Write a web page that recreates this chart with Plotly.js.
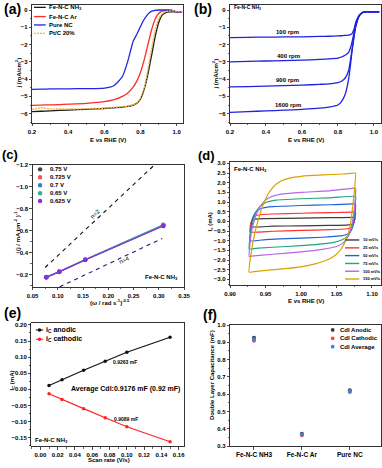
<!DOCTYPE html>
<html><head><meta charset="utf-8">
<script src="https://cdn.plot.ly/plotly-3.0.1.min.js"></script>
<style>html,body{margin:0;padding:0;background:#fff}#chart{width:382px;height:468px}</style>
</head><body><div id="chart"></div>
<script>
// ---------- (a) LSV comparison ----------
const lsvE   = [0.2, 0.25, 0.3, 0.4, 0.5, 0.6, 0.65, 0.7, 0.73, 0.76, 0.78, 0.8, 0.82, 0.84, 0.86, 0.88, 0.9, 0.92, 0.94, 0.96, 0.98, 1.0, 1.03];
const lsvNH3 = [-5.88, -5.86, -5.84, -5.79, -5.75, -5.7, -5.66, -5.62, -5.58, -5.5, -5.4, -5.15, -4.6, -3.75, -2.7, -1.6, -0.75, -0.3, -0.15, -0.11, -0.1, -0.1, -0.1];
const lsvAr  = [-5.52, -5.5, -5.49, -5.45, -5.4, -5.3, -5.2, -5.0, -4.8, -4.45, -4.1, -3.6, -2.9, -2.05, -1.2, -0.55, -0.2, -0.06, -0.03, -0.05, -0.08, -0.1, -0.1];
const lsvNC  = [-4.59, -4.58, -4.57, -4.56, -4.55, -4.52, -4.4, -3.85, -2.95, -1.8, -1.4, -0.95, -0.55, -0.25, -0.08, -0.02, 0.0, 0.0, 0.0, 0.0, -0.03, -0.1, -0.1];
const lsvPtC = [-5.75, -5.66, -5.72, -5.73, -5.72, -5.68, -5.64, -5.6, -5.56, -5.48, -5.38, -5.1, -4.55, -3.5, -2.3, -1.2, -0.5, -0.22, -0.1, -0.05, -0.05, -0.08, -0.1];
const lsvNames = ['Fe-N-C NH<sub>3</sub>', 'Fe-N-C Ar', 'Pure NC', 'Pt/C 20%'];

// ---------- (b) RDE at various rpm ----------
const rdeE    = [0.2, 0.3, 0.4, 0.5, 0.6, 0.7, 0.75, 0.8, 0.82, 0.84, 0.86, 0.87, 0.88, 0.89, 0.9, 0.92, 0.94, 0.96, 0.98, 1.0, 1.03];
const rpm100  = [-1.6, -1.58, -1.57, -1.56, -1.55, -1.53, -1.52, -1.5, -1.49, -1.47, -1.45, -1.42, -1.35, -1.1, -0.7, -0.28, -0.13, -0.1, -0.1, -0.1, -0.1];
const rpm400  = [-3.0, -2.97, -2.95, -2.93, -2.9, -2.86, -2.83, -2.78, -2.72, -2.62, -2.45, -2.2, -1.8, -1.3, -0.8, -0.3, -0.13, -0.1, -0.1, -0.1, -0.1];
const rpm900  = [-4.45, -4.43, -4.41, -4.38, -4.35, -4.3, -4.27, -4.2, -4.12, -3.95, -3.5, -2.9, -2.2, -1.5, -0.9, -0.32, -0.14, -0.1, -0.1, -0.1, -0.1];
const rpm1600 = [-5.92, -5.88, -5.84, -5.8, -5.75, -5.68, -5.62, -5.5, -5.3, -4.9, -4.0, -3.2, -2.3, -1.55, -0.95, -0.33, -0.14, -0.1, -0.1, -0.1, -0.1];
const rpmLabels = ['100 rpm', '400 rpm', '900 rpm', '1600 rpm'];
const rpmLabelX = [0.521, 0.525, 0.521, 0.523];
const rpmLabelY = [-1.29, -2.64, -4.05, -5.49];

// ---------- (c) Koutecky-Levich ----------
const klX    = [0.0773, 0.103, 0.1545, 0.309];
const kl075  = [-0.178, -0.228, -0.337, -0.648];
const kl0725 = [-0.179, -0.229, -0.338, -0.650];
const kl070  = [-0.180, -0.230, -0.339, -0.655];
const kl065  = [-0.179, -0.229, -0.338, -0.652];
const kl0625 = [-0.178, -0.227, -0.335, -0.643];
const klNames = ['0.75 V', '0.725 V', '0.7 V', '0.65 V', '0.625 V'];
const n2X = [0.075, 0.292], n2Y = [-0.267, -1.2];
const n4X = [0.104, 0.307], n4Y = [-0.092, -0.531];

// ---------- (d) CV at various scan rates ----------
const cv10E  = [0.929, 0.93, 0.932, 0.936, 0.95, 1.0, 1.04, 1.075, 1.076, 1.075, 1.073, 1.068, 1.04, 1.0, 0.96, 0.929];
const cv10I  = [-0.28, -0.05, 0.08, 0.12, 0.14, 0.17, 0.19, 0.21, 0.2, 0.0, -0.13, -0.18, -0.21, -0.23, -0.25, -0.28];
const cv25E  = [0.928, 0.929, 0.931, 0.934, 0.94, 0.96, 1.0, 1.04, 1.075, 1.077, 1.076, 1.074, 1.071, 1.065, 1.04, 1.0, 0.96, 0.928];
const cv25I  = [-0.55, -0.2, 0.1, 0.26, 0.33, 0.38, 0.42, 0.45, 0.48, 0.46, 0.15, -0.15, -0.32, -0.38, -0.43, -0.47, -0.51, -0.55];
const cv50E  = [0.928, 0.929, 0.931, 0.934, 0.938, 0.945, 0.96, 1.0, 1.04, 1.075, 1.077, 1.076, 1.074, 1.071, 1.066, 1.055, 1.03, 0.99, 0.95, 0.928];
const cv50I  = [-1.0, -0.5, 0.0, 0.35, 0.55, 0.68, 0.76, 0.82, 0.86, 0.9, 0.88, 0.4, -0.1, -0.45, -0.65, -0.75, -0.82, -0.88, -0.94, -1.0];
const cv75E  = [0.927, 0.928, 0.93, 0.933, 0.937, 0.943, 0.952, 0.965, 1.0, 1.04, 1.075, 1.077, 1.076, 1.074, 1.071, 1.066, 1.058, 1.045, 1.02, 0.98, 0.94, 0.927];
const cv75I  = [-1.42, -0.9, -0.4, 0.1, 0.5, 0.8, 1.0, 1.1, 1.17, 1.22, 1.3, 1.28, 0.7, 0.1, -0.4, -0.75, -0.95, -1.1, -1.2, -1.3, -1.38, -1.42];
const cv100E = [0.927, 0.928, 0.93, 0.933, 0.937, 0.943, 0.95, 0.96, 0.975, 1.0, 1.04, 1.075, 1.077, 1.076, 1.074, 1.071, 1.067, 1.06, 1.05, 1.03, 1.0, 0.96, 0.93, 0.927];
const cv100I = [-1.82, -1.2, -0.6, -0.1, 0.35, 0.8, 1.1, 1.3, 1.42, 1.5, 1.58, 1.72, 1.7, 1.0, 0.3, -0.3, -0.75, -1.1, -1.3, -1.45, -1.58, -1.7, -1.8, -1.82];
const cv150E = [0.927, 0.93, 0.935, 0.94, 0.945, 0.952, 0.96, 0.97, 0.985, 1.0, 1.03, 1.06, 1.076, 1.077, 1.075, 1.072, 1.069, 1.064, 1.058, 1.05, 1.04, 1.02, 1.0, 0.97, 0.94, 0.927];
const cv150I = [-2.62, -1.6, -0.6, 0.1, 0.7, 1.3, 1.75, 2.05, 2.25, 2.33, 2.4, 2.45, 2.5, 2.5, 1.5, 0.5, -0.3, -0.9, -1.35, -1.7, -1.95, -2.2, -2.35, -2.47, -2.57, -2.62];
const cvNames = ['10 mV/s', '25 mV/s', '50 mV/s', '75 mV/s', '100 mV/s', '150 mV/s'];

// ---------- (e) Cdl fit ----------
const scanRate   = [0.01, 0.025, 0.05, 0.075, 0.1, 0.15];
const icAnodic   = [0.012, 0.03, 0.059, 0.087, 0.115, 0.162];
const icCathodic = [-0.014, -0.032, -0.06, -0.088, -0.116, -0.163];

// ---------- (f) Cdl comparison ----------
const samples     = ['Fe-N-C NH3', 'Fe-N-C Ar', 'Pure NC'];
const cdlAnodic   = [0.926, 0.372, 0.623];
const cdlCathodic = [0.909, 0.364, 0.614];
const cdlAverage  = [0.918, 0.368, 0.619];

// ================= drawing =================
const W = 382, H = 468;
const FONT = '"Liberation Sans", Arial, Helvetica, sans-serif';
const px = (l, r) => [l / W, r / W];
const py = (t, b) => [1 - b / H, 1 - t / H];

function mkAxis(domain, anchor, range, dtick, fmt, minorDt, opts) {
  const a = {
    domain, anchor, range, autorange: false,
    showline: true, mirror: true, linecolor: '#000', linewidth: 0.8,
    ticks: 'outside', ticklen: 2.5, tickwidth: 0.7, tickcolor: '#000',
    showgrid: false, zeroline: false,
    tickfont: {family: FONT, size: 6, color: '#000', weight: 'bold'}
  };
  if (dtick != null) { a.dtick = dtick; a.tick0 = 0; a.tickformat = fmt; }
  if (minorDt) a.minor = {dtick: minorDt, ticks: 'outside', ticklen: 1.5, tickwidth: 0.6, tickcolor: '#000', showgrid: false};
  return Object.assign(a, opts || {});
}

const traces = [];
function line(x, y, xa, ya, color, extra) {
  traces.push(Object.assign({x, y, xaxis: xa, yaxis: ya, type: 'scatter', mode: 'lines',
    line: {color, width: 1.3}, showlegend: false, hoverinfo: 'skip'}, extra || {}));
}

// (a)
const aCols = ['#1a1a1a', '#ff2a2a', '#2323e6', '#f2b43a'];
[lsvNH3, lsvAr, lsvNC, lsvPtC].forEach((s, i) =>
  line(lsvE, s, 'x', 'y', aCols[i], {line: {color: aCols[i], width: i === 3 ? 1.4 : 1.3, shape: 'spline', smoothing: 0.6, dash: i === 3 ? '2px,1px' : 'solid'}}));

// (b)
[rpm100, rpm400, rpm900, rpm1600].forEach(s =>
  line(rdeE, s, 'x2', 'y2', '#2020e0', {line: {color: '#2020e0', width: 1.3, shape: 'spline', smoothing: 0.6}}));

// (c)
line(n2X, n2Y, 'x3', 'y3', '#111', {line: {color: '#111', width: 1.1, dash: '4px,4px'}});
line(n4X, n4Y, 'x3', 'y3', '#1c1c7a', {line: {color: '#1c1c7a', width: 1.1, dash: '4px,4px'}});
const cCols = ['#404040', '#ff4d4d', '#2a7fd4', '#2bb38a', '#8b2be2'];
[kl075, kl0725, kl070, kl065, kl0625].forEach((s, i) =>
  line(klX, s, 'x3', 'y3', cCols[i], {mode: 'lines+markers', line: {color: cCols[i], width: 1.2}, marker: {color: cCols[i], size: 4.5}}));

// (d)
const dCols = ['#3c3c3c', '#ff3333', '#1f63d6', '#1fa67a', '#b565e8', '#d9a200'];
[[cv10E, cv10I], [cv25E, cv25I], [cv50E, cv50I], [cv75E, cv75I], [cv100E, cv100I], [cv150E, cv150I]].forEach((p, i) =>
  line(p[0], p[1], 'x4', 'y4', dCols[i], {line: {color: dCols[i], width: 1.2, shape: 'spline', smoothing: 0.4}}));

// (e)
line(scanRate, icAnodic, 'x5', 'y5', '#111', {mode: 'lines+markers', marker: {color: '#111', size: 3.5}, line: {color: '#111', width: 1.1}});
line(scanRate, icCathodic, 'x5', 'y5', '#ff2020', {mode: 'lines+markers', marker: {color: '#ff2020', size: 3.5}, line: {color: '#ff2020', width: 1.1}});

// (f)
const fCols = ['#3a3a3a', '#ff4040', '#3a86d6'];
[cdlAnodic, cdlCathodic, cdlAverage].forEach((s, i) =>
  line(samples, s, 'x6', 'y6', fCols[i], {mode: 'markers', marker: {color: fCols[i], size: 4}}));

// ---- annotations & legend shapes ----
const ann = [], shapes = [];
function txt(x, y, text, size, o) {
  ann.push(Object.assign({x, y, text, showarrow: false, xref: 'paper', yref: 'paper',
    xanchor: 'center', yanchor: 'middle',
    font: {family: FONT, size, color: '#000', weight: 'bold'}}, o || {}));
}
const P = (x, y) => [x / W, 1 - y / H];
// panel labels
[['(a)', 2, 8.5, 14], ['(b)', 192, 8.5, 14], ['(c)', 0, 154.5, 13], ['(d)', 196, 156, 13], ['(e)', 2, 313, 14], ['(f)', 201, 315, 14]]
  .forEach(l => { const p = P(l[1], l[2]); txt(p[0], p[1], l[0], l[3], {xanchor: 'left'}); });
// axis titles
function title(x, y, t, rot) { const p = P(x, y); txt(p[0], p[1], t, 6, rot ? {textangle: -90} : {}); }
title(108, 139.5, 'E vs RHE (V)');
title(18.5, 73, 'j (mA/cm<sup>2</sup>)', 1);
title(306, 139.5, 'E vs RHE (V)');
title(215.5, 74, 'j (mA/cm<sup>2</sup>)', 1);
title(110, 302, '(ω / rad s<sup>-1</sup>)<sup>-0.5</sup>');
title(17, 231, '(j / mA cm<sup>-2</sup> )<sup>-1</sup>', 1);
title(306, 300.5, 'E vs RHE (V)');
title(209.5, 222, 'I<sub>c</sub> (mA)', 1);
title(109, 460, 'Scan rate (V/s)');
title(11.5, 381, 'I<sub>C</sub> (mA)', 1);
title(212, 375, 'Double Layer Capacitance (mF)', 1);

function dtxt(xa, ya, x, y, text, size, o) {
  txt(x, y, text, size, Object.assign({xref: xa + ' domain', yref: ya + ' domain'}, o || {}));
}
function legLine(xa, ya, x0, x1, y, color, w, dash) {
  shapes.push({type: 'line', xref: xa + ' domain', yref: ya + ' domain', x0, x1, y0: y, y1: y,
    line: {color, width: w, dash: dash || 'solid'}});
}
function legDot(xa, ya, x, y, color, r) {
  shapes.push({type: 'circle', xref: xa + ' domain', yref: ya + ' domain', xsizemode: 'pixel', ysizemode: 'pixel',
    xanchor: x, yanchor: y, x0: -r, x1: r, y0: -r, y1: r, fillcolor: color, line: {width: 0}});
}

// (a) legend
[0.98, 0.902, 0.831, 0.76].forEach((y, i) => {
  legLine('x', 'y', 0.013, 0.091, y, aCols[i], 1.3, i === 3 ? '2px,1px' : 'solid');
  dtxt('x', 'y', 0.097, y, lsvNames[i], 6, {xanchor: 'left'});
});
// (b) texts
dtxt('x2', 'y2', 0.01, 0.975, 'Fe-N-C NH<sub>3</sub>', 5, {xanchor: 'left'});
rpmLabels.forEach((t, i) => txt(rpmLabelX[i], rpmLabelY[i], t, 6, {xref: 'x2', yref: 'y2'}));
// (c) legend & texts
[0.962, 0.897, 0.832, 0.767, 0.703].forEach((y, i) => {
  legDot('x3', 'y3', 0.05, y, cCols[i], 2.2);
  dtxt('x3', 'y3', 0.105, y, klNames[i], 6, {xanchor: 'left'});
});
txt(0.174, -0.752, 'n=2', 6, {xref: 'x3', yref: 'y3', textangle: -43, font: {family: FONT, size: 6, color: '#000'}});
txt(0.232, -0.335, 'n=4', 6, {xref: 'x3', yref: 'y3', textangle: -25, font: {family: FONT, size: 6, color: '#000'}});
dtxt('x3', 'y3', 0.975, 0.076, 'Fe-N-C NH<sub>3</sub>', 6, {xanchor: 'right'});
// (d) legend & text
dtxt('x4', 'y4', 0.012, 0.94, 'Fe-N-C NH<sub>3</sub>', 6, {xanchor: 'left'});
[0.366, 0.302, 0.239, 0.175, 0.112, 0.049].forEach((y, i) => {
  legLine('x4', 'y4', 0.762, 0.856, y, dCols[i], 1.4);
  dtxt('x4', 'y4', 0.868, y, cvNames[i], 4, {xanchor: 'left'});
});
// (e) legend & texts
[[0.946, '#111', 'i<sub>C</sub> anodic'], [0.87, '#ff2020', 'i<sub>C</sub> cathodic']].forEach(r => {
  legLine('x5', 'y5', 0.03, 0.078, r[0], r[1], 1);
  legDot('x5', 'y5', 0.054, r[0], r[1], 1.8);
  dtxt('x5', 'y5', 0.083, r[0], r[2], 7, {xanchor: 'left'});
});
txt(0.098, 0.086, '0.9263 mF', 5, {xref: 'x5', yref: 'y5'});
txt(0.098, 0.001, 'Average Cdl:0.9176 mF (0.92 mF)', 7, {xref: 'x5', yref: 'y5'});
txt(0.099, -0.092, '0.9089 mF', 5, {xref: 'x5', yref: 'y5'});
dtxt('x5', 'y5', 0.008, 0.045, 'Fe-N-C NH<sub>3</sub>', 6, {xanchor: 'left'});
// (f) legend
[[0.959, 'Cdl Anodic'], [0.89, 'Cdl Cathodic'], [0.821, 'Cdl Average']].forEach((r, i) => {
  legDot('x6', 'y6', 0.68, r[0], fCols[i], 1.9);
  dtxt('x6', 'y6', 0.716, r[0], r[1], 6, {xanchor: 'left'});
});

const layout = {
  width: W, height: H, margin: {l: 0, r: 0, t: 0, b: 0},
  paper_bgcolor: '#fff', plot_bgcolor: '#fff', showlegend: false,
  font: {family: FONT, color: '#000'},
  xaxis:  mkAxis(px(32, 183), 'y', [0.2, 1.035], 0.2, '.1f', 0.1),
  yaxis:  mkAxis(py(5, 123), 'x', [-6.54, 0.29], 1, 'd', 0.5),
  xaxis2: mkAxis(px(230, 381), 'y2', [0.2, 1.04], 0.2, '.1f', 0.1),
  yaxis2: mkAxis(py(5, 123), 'x2', [-6.54, 0.29], 1, 'd', 0.5),
  xaxis3: mkAxis(px(32.5, 184), 'y3', [0.05, 0.35], 0.05, '.2f', 0.025),
  yaxis3: mkAxis(py(164.7, 287), 'x3', [-0.09, -1.2], 0.2, '.1f', 0.1),
  xaxis4: mkAxis(px(230, 381), 'y4', [0.9, 1.1127], 0.05, '.2f', 0.025),
  yaxis4: mkAxis(py(162, 285), 'x4', [-3.29, 3.07], 0.5, '.1f', 0.25),
  xaxis5: mkAxis(px(31.3, 184.3), 'y5', [-0.0105, 0.1665], 0.02, '.2f', 0.01),
  yaxis5: mkAxis(py(323.3, 446.3), 'x5', [-0.177, 0.205], 0.05, '.2f', 0.025),
  xaxis6: mkAxis(px(230, 381), 'y6', [-0.5, 2.65], null, null, null,
    {type: 'category', tickfont: {family: FONT, size: 6.5, color: '#000', weight: 'bold'}}),
  yaxis6: mkAxis(py(325, 446.3), 'x6', [0.3, 1.0], 0.1, '.1f', 0.05),
  annotations: ann, shapes
};
Plotly.newPlot('chart', traces, layout, {staticPlot: true, displayModeBar: false});
</script></body></html>
